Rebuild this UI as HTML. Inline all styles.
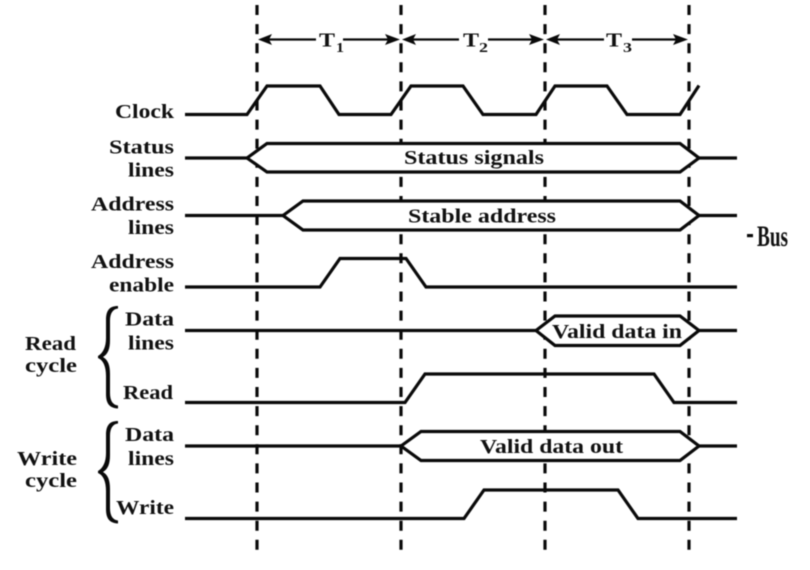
<!DOCTYPE html>
<html>
<head>
<meta charset="utf-8">
<style>
html,body{margin:0;padding:0;background:#fff;width:810px;height:570px;overflow:hidden}
svg{display:block;filter:blur(0.45px)}
text{font-family:"Liberation Serif",serif;font-weight:bold;fill:#111;font-size:20px}
.s{font-size:14px}
.sig{fill:none;stroke:#0a0a0a;stroke-width:3.2;stroke-linejoin:miter}
.hex{fill:#fff;stroke:#0a0a0a;stroke-width:3.2;stroke-linejoin:miter}
.dash{stroke:#0a0a0a;stroke-width:3.2;stroke-dasharray:10 9.1}
.arr{stroke:#0a0a0a;stroke-width:2.2;fill:none}
.b{fill:#0a0a0a;stroke:none}
</style>
</head>
<body>
<svg width="810" height="570" viewBox="0 0 810 570" xmlns="http://www.w3.org/2000/svg">
<!-- dashed time markers -->
<line class="dash" x1="257" y1="5" x2="257" y2="556"/>
<line class="dash" x1="401" y1="5" x2="401" y2="556"/>
<line class="dash" x1="545" y1="5" x2="545" y2="556"/>
<line class="dash" x1="689" y1="5" x2="689" y2="556"/>

<!-- T arrows -->
<g class="arr">
<line x1="262" y1="39.5" x2="316" y2="39.5"/><line x1="343" y1="39.5" x2="396" y2="39.5"/>
<line x1="406" y1="39.5" x2="459" y2="39.5"/><line x1="488" y1="39.5" x2="540" y2="39.5"/>
<line x1="550" y1="39.5" x2="604" y2="39.5"/><line x1="632" y1="39.5" x2="684" y2="39.5"/>
</g>
<g class="b">
<path d="M258,39.5 L272,34 L269,39.5 L272,45Z"/>
<path d="M400,39.5 L385,34 L388,39.5 L385,45Z"/>
<path d="M402,39.5 L416,34 L413,39.5 L416,45Z"/>
<path d="M544,39.5 L529,34 L532,39.5 L529,45Z"/>
<path d="M546,39.5 L560,34 L557,39.5 L560,45Z"/>
<path d="M688,39.5 L673,34 L676,39.5 L673,45Z"/>
</g>

<!-- signals -->
<polyline class="sig" points="185,114.5 247,114.5 267,86 320,86 339,114.5 391,114.5 411,86 463,86 483,114.5 536,114.5 555,86 607,86 627,114.5 680,114.5 699,85.5"/>

<line class="sig" x1="185" y1="158" x2="247" y2="158"/>
<line class="sig" x1="699" y1="158" x2="737" y2="158"/>
<polygon class="hex" points="247,158 267,143.5 680,143.5 699,158 680,172 267,172"/>

<line class="sig" x1="185" y1="215.5" x2="283" y2="215.5"/>
<line class="sig" x1="699" y1="215.5" x2="737" y2="215.5"/>
<polygon class="hex" points="283,215.5 303,201 680,201 699,215.5 680,230 303,230"/>

<polyline class="sig" points="185,287 320,287 340,258.5 406,258.5 426,287 737,287"/>

<line class="sig" x1="185" y1="330.5" x2="536" y2="330.5"/>
<line class="sig" x1="699" y1="330.5" x2="737" y2="330.5"/>
<polygon class="hex" points="536,330.5 555,316 680,316 699,330.5 680,345.5 555,345.5"/>

<polyline class="sig" points="185,402.5 405,402.5 425,374 654,374 674,402.5 737,402.5"/>

<line class="sig" x1="185" y1="446" x2="401" y2="446"/>
<line class="sig" x1="699" y1="446" x2="737" y2="446"/>
<polygon class="hex" points="401,446 421,431.5 680,431.5 699,446 680,460.5 421,460.5"/>

<polyline class="sig" points="185,518.5 464,518.5 484,490 618,490 638,518.5 737,518.5"/>

<!-- braces -->
<path class="b" d="M118,306 C109,306 106,311 106,320 L106,338 C106,347 103,353 98,356 L98,358 C103,360 106,366 106,376 L106,394 C106,403 109,408 118,408.5 L118,405.5 C113,405 110,401 110,393 L110,374 C110,365 108,360 103,357 C108,354 110,349 110,340 L110,321 C110,313 113,309 118,308.5Z"/>
<path class="b" d="M118,421 C109,421 106,426 106,435 L106,453 C106,462 103,468 98,471 L98,473 C103,475 106,481 106,491 L106,509 C106,518 109,523 118,523.5 L118,520.5 C113,520 110,516 110,508 L110,489 C110,480 108,475 103,472 C108,469 110,464 110,455 L110,436 C110,428 113,424 118,423.5Z"/>

<!-- T labels -->
<text x="319" y="46.5" textLength="16" lengthAdjust="spacingAndGlyphs">T</text><text class="s" x="336" y="52" textLength="8" lengthAdjust="spacingAndGlyphs">1</text>
<text x="463" y="46.5" textLength="16" lengthAdjust="spacingAndGlyphs">T</text><text class="s" x="479" y="52" textLength="9" lengthAdjust="spacingAndGlyphs">2</text>
<text x="606" y="46.5" textLength="16" lengthAdjust="spacingAndGlyphs">T</text><text class="s" x="623" y="52" textLength="9" lengthAdjust="spacingAndGlyphs">3</text>

<!-- left labels -->
<text x="115" y="118" textLength="59" lengthAdjust="spacingAndGlyphs">Clock</text>
<text x="109" y="153.5" textLength="65" lengthAdjust="spacingAndGlyphs">Status</text>
<text x="128" y="176.5" textLength="46" lengthAdjust="spacingAndGlyphs">lines</text>
<text x="91" y="210.5" textLength="83" lengthAdjust="spacingAndGlyphs">Address</text>
<text x="128" y="234" textLength="46" lengthAdjust="spacingAndGlyphs">lines</text>
<text x="91" y="268" textLength="83" lengthAdjust="spacingAndGlyphs">Address</text>
<text x="109" y="291.5" textLength="65" lengthAdjust="spacingAndGlyphs">enable</text>
<text x="125" y="325.5" textLength="49" lengthAdjust="spacingAndGlyphs">Data</text>
<text x="128" y="349.5" textLength="46" lengthAdjust="spacingAndGlyphs">lines</text>
<text x="123" y="399" textLength="50" lengthAdjust="spacingAndGlyphs">Read</text>
<text x="125" y="441" textLength="49" lengthAdjust="spacingAndGlyphs">Data</text>
<text x="128" y="465" textLength="46" lengthAdjust="spacingAndGlyphs">lines</text>
<text x="116" y="514" textLength="58" lengthAdjust="spacingAndGlyphs">Write</text>
<text x="25" y="350" textLength="51" lengthAdjust="spacingAndGlyphs">Read</text>
<text x="25" y="372" textLength="52" lengthAdjust="spacingAndGlyphs">cycle</text>
<text x="17" y="465" textLength="60" lengthAdjust="spacingAndGlyphs">Write</text>
<text x="25" y="487" textLength="52" lengthAdjust="spacingAndGlyphs">cycle</text>

<!-- bus labels -->
<text x="404" y="164" textLength="140" lengthAdjust="spacingAndGlyphs">Status signals</text>
<text x="408" y="222.5" textLength="148" lengthAdjust="spacingAndGlyphs">Stable address</text>
<text x="552" y="338" textLength="130" lengthAdjust="spacingAndGlyphs">Valid data in</text>
<text x="480" y="453" textLength="143" lengthAdjust="spacingAndGlyphs">Valid data out</text>

<!-- Bus -->
<rect class="b" x="747" y="234" width="6" height="3.2"/>
<text x="757" y="246" textLength="31" lengthAdjust="spacingAndGlyphs" style="font-size:30px;font-weight:bold">Bus</text>
</svg>
</body>
</html>
